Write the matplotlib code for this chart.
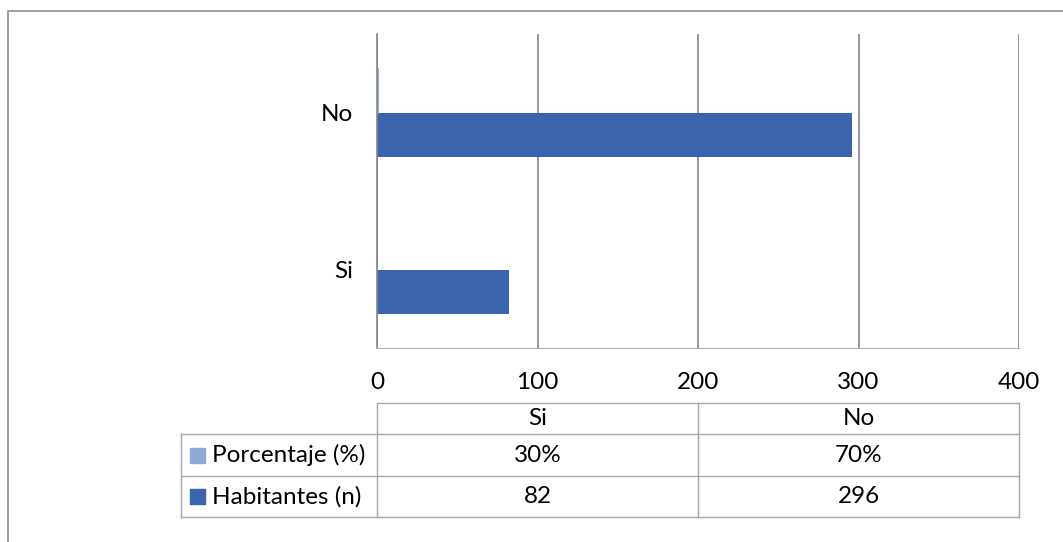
import matplotlib.pyplot as plt
from matplotlib.lines import Line2D
from matplotlib.patches import Rectangle

plt.rcParams['font.family'] = ['Lato', 'DejaVu Sans']

categories = ["Si", "No"]
series_names = ["Porcentaje (%)", "Habitantes (n)"]
porcentaje = [0.30, 0.70]
habitantes = [82, 296]
porcentaje_labels = ["30%", "70%"]
habitantes_labels = ["82", "296"]
x_ticks = [0, 100, 200, 300, 400]

W, H = 1063, 542
FS = 17.5
light_blue = "#8FA8D8"
dark_blue = "#3B64AD"

fig = plt.figure(figsize=(W / 100, H / 100), dpi=100)


def fx(x):
    return x / W


def fy(y):
    return 1 - y / H


def hline(x0, x1, y, color="#A6A6A6", lw=1.0):
    fig.add_artist(Line2D([fx(x0), fx(x1)], [fy(y), fy(y)], color=color, lw=lw))


def vline(x, y0, y1, color="#A6A6A6", lw=1.0):
    fig.add_artist(Line2D([fx(x), fx(x)], [fy(y0), fy(y1)], color=color, lw=lw))


# outer chart border
fig.add_artist(Rectangle((fx(8), fy(560)), fx(1100), (560 - 11) / H,
                         fill=False, edgecolor="#8C8C8C", lw=1.2))

left, right, top, bottom = 377, 1019, 34, 348
ax = fig.add_axes([fx(left), fy(bottom), fx(right - left), (bottom - top) / H])

y = list(range(len(categories)))
bh = 0.2857
ax.barh([v - bh / 2 for v in y], habitantes, height=bh, color=dark_blue)
ax.barh([v + bh / 2 for v in y], porcentaje, height=bh, color=light_blue,
        edgecolor=light_blue, lw=0.6)

ax.set_xlim(0, 400)
ax.set_ylim(-0.5, 1.5)
ax.set_xticks(x_ticks)
ax.set_xticklabels([str(t) for t in x_ticks], fontsize=FS)
ax.set_yticks(y)
ax.set_yticklabels(categories, fontsize=FS)
ax.tick_params(axis="x", length=0, pad=17)
ax.tick_params(axis="y", length=0, pad=17)
ax.grid(axis="x", color="#868686", lw=1.2)
ax.set_axisbelow(True)
for s in ["top", "right"]:
    ax.spines[s].set_visible(False)
ax.spines["left"].set_color("#868686")
ax.spines["bottom"].set_color("#B0B0B0")
ax.spines["left"].set_linewidth(1.2)

# data table below the chart
t_left = 181
rows_y = [403, 434, 476, 517]
n = len(categories)
col_x = [left + (right - left) * i / n for i in range(n + 1)]

hline(left, right, rows_y[0])
for ry in rows_y[1:]:
    hline(t_left, right, ry)
vline(t_left, rows_y[1], rows_y[3])
for cx in col_x:
    vline(cx, rows_y[0], rows_y[3])

for i, cat in enumerate(categories):
    cx = (col_x[i] + col_x[i + 1]) / 2
    fig.text(fx(cx), fy((rows_y[0] + rows_y[1]) / 2), cat, ha="center", va="center", fontsize=FS)
    fig.text(fx(cx), fy((rows_y[1] + rows_y[2]) / 2), porcentaje_labels[i], ha="center", va="center", fontsize=FS)
    fig.text(fx(cx), fy((rows_y[2] + rows_y[3]) / 2), habitantes_labels[i], ha="center", va="center", fontsize=FS)

for k, (name, color) in enumerate(zip(series_names, [light_blue, dark_blue])):
    cy = (rows_y[k + 1] + rows_y[k + 2]) / 2
    fig.add_artist(Rectangle((fx(190), fy(cy + 7.5)), 15 / W, 15 / H, color=color))
    fig.text(fx(212), fy(cy), name, ha="left", va="center", fontsize=FS)

fig.savefig("out.png", dpi=100)
